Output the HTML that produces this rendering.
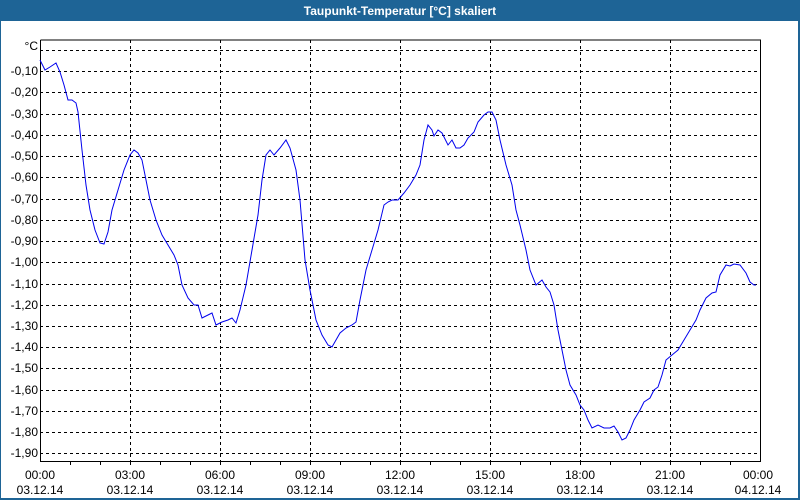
<!DOCTYPE html>
<html><head><meta charset="utf-8"><style>
html,body{margin:0;padding:0;background:#fff;}
svg{display:block;font-family:"Liberation Sans","DejaVu Sans",sans-serif;}
</style></head><body>
<svg width="800" height="500" viewBox="0 0 800 500" xmlns="http://www.w3.org/2000/svg">
<rect x="0" y="0" width="800" height="500" fill="#1e6496"/>
<rect x="1" y="21" width="797" height="477" fill="#fff"/>
<text x="400" y="15" fill="#fff" font-size="12" font-weight="bold" text-anchor="middle">Taupunkt-Temperatur [°C] skaliert</text>
<g stroke="#000" stroke-width="1" stroke-dasharray="3,3" fill="none">
<path d="M40 50.5H760M40 71.5H760M40 92.5H760M40 114.5H760M40 135.5H760M40 156.5H760M40 177.5H760M40 199.5H760M40 220.5H760M40 241.5H760M40 262.5H760M40 284.5H760M40 305.5H760M40 326.5H760M40 347.5H760M40 368.5H760M40 390.5H760M40 411.5H760M40 432.5H760M40 453.5H760"/>
<path d="M130.5 40V461M220.5 40V461M310.5 40V461M400.5 40V461M490.5 40V461M580.5 40V461M670.5 40V461"/>
</g>
<path d="M40.5 40V461.5H760.5V40H40.5" stroke="#000" fill="none"/>
<g stroke="#000">
<path d="M70.5 461V465M100.5 461V465M130.5 461V465M160.5 461V465M190.5 461V465M220.5 461V465M250.5 461V465M280.5 461V465M310.5 461V465M340.5 461V465M370.5 461V465M400.5 461V465M430.5 461V465M460.5 461V465M490.5 461V465M520.5 461V465M550.5 461V465M580.5 461V465M610.5 461V465M640.5 461V465M670.5 461V465M700.5 461V465M730.5 461V465"/>
</g>
<g font-size="12" fill="#000" text-anchor="end">
<text x="38" y="50">°C</text>
<text x="38" y="75">-0,10</text><text x="38" y="96">-0,20</text><text x="38" y="118">-0,30</text><text x="38" y="139">-0,40</text><text x="38" y="160">-0,50</text><text x="38" y="181">-0,60</text><text x="38" y="203">-0,70</text><text x="38" y="224">-0,80</text><text x="38" y="245">-0,90</text><text x="38" y="266">-1,00</text><text x="38" y="288">-1,10</text><text x="38" y="309">-1,20</text><text x="38" y="330">-1,30</text><text x="38" y="351">-1,40</text><text x="38" y="372">-1,50</text><text x="38" y="394">-1,60</text><text x="38" y="415">-1,70</text><text x="38" y="436">-1,80</text><text x="38" y="457">-1,90</text>
</g>
<g font-size="12" fill="#000" text-anchor="middle">
<text x="40" y="479">00:00</text><text x="40" y="494">03.12.14</text>
<text x="130" y="479">03:00</text><text x="130" y="494">03.12.14</text>
<text x="220" y="479">06:00</text><text x="220" y="494">03.12.14</text>
<text x="310" y="479">09:00</text><text x="310" y="494">03.12.14</text>
<text x="400" y="479">12:00</text><text x="400" y="494">03.12.14</text>
<text x="490" y="479">15:00</text><text x="490" y="494">03.12.14</text>
<text x="580" y="479">18:00</text><text x="580" y="494">03.12.14</text>
<text x="670" y="479">21:00</text><text x="670" y="494">03.12.14</text>
<text x="758" y="479">00:00</text><text x="758" y="494">04.12.14</text>
</g>
<polyline fill="none" stroke="#0000ee" stroke-width="1" points="40,60 45,70 50,67 56,63 60,72 64,85 68,100 72,100 76,103 78,112 82,150 86,185 90,210 95,230 100,243 104,244 108,232 112,210 118,190 124,170 130,155 134,150 138,153 142,160 146,180 150,200 156,220 162,235 168,245 174,255 178,265 182,285 188,298 194,305 198,305 202,318 208,315 212,313 216,325 222,322 228,320 232,318 236,323 240,310 246,285 252,250 258,215 262,180 266,155 270,150 274,155 280,148 286,140 290,148 296,170 300,200 305,260 310,290 316,320 322,335 328,345 332,347 336,340 340,333 346,328 352,325 356,322 360,300 366,270 372,250 378,230 384,205 388,202 392,200 398,200 404,193 410,185 416,175 420,165 424,140 428,125 432,130 434,136 438,130 442,133 448,145 452,140 456,148 460,148 464,145 468,138 474,132 478,122 484,115 488,112 492,112 496,120 500,140 506,165 512,185 516,210 520,225 526,250 530,270 536,285 542,280 546,287 550,292 554,305 558,330 562,350 566,370 570,385 576,395 580,405 584,410 588,420 592,428 598,425 604,428 610,428 614,426 618,432 622,440 626,438 630,430 634,420 640,410 644,402 650,398 654,390 658,387 662,375 666,360 672,355 678,350 684,340 690,330 696,320 700,310 706,298 712,293 716,292 720,275 726,265 730,266 734,264 740,265 746,273 750,282 754,285 756,285"/>
</svg>
</body></html>
